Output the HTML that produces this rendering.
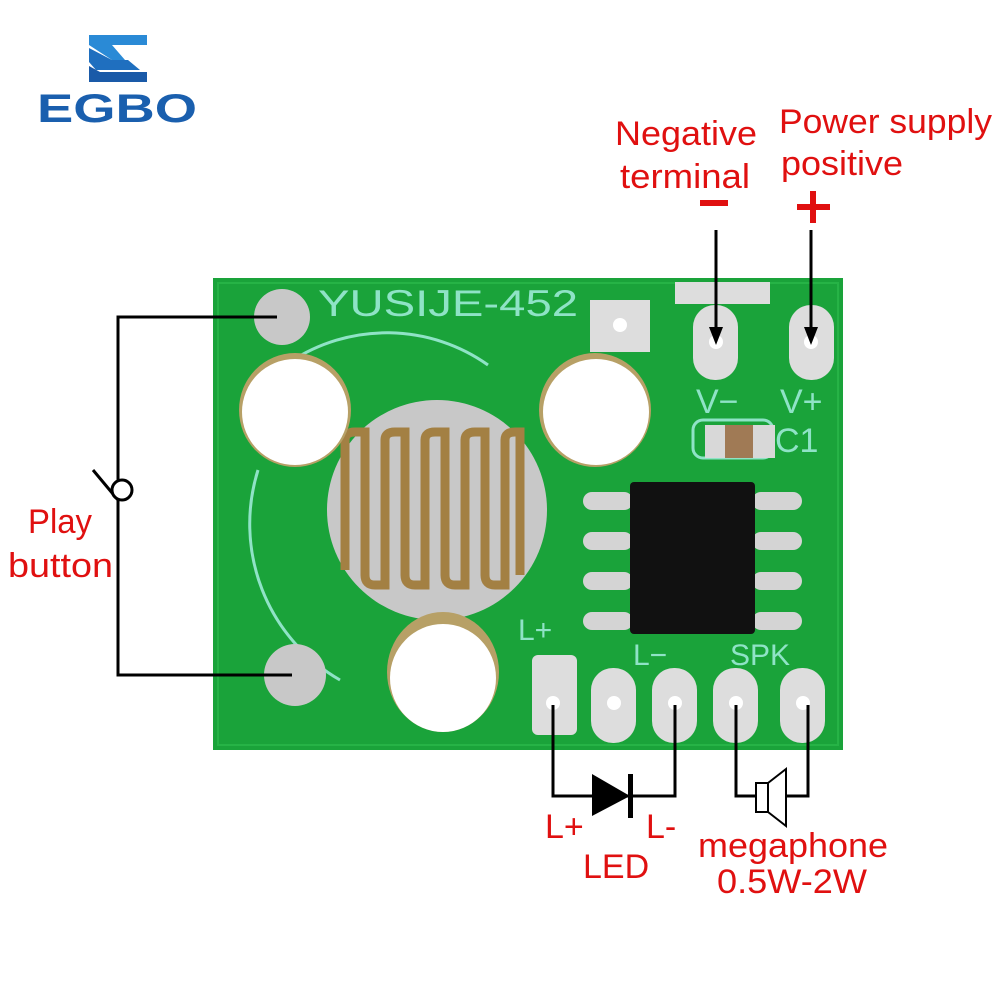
<!DOCTYPE html>
<html><head><meta charset="utf-8"><style>
html,body{margin:0;padding:0;background:#fff;}
svg{display:block}
text{font-family:"Liberation Sans",sans-serif;}
</style></head><body>
<svg width="1000" height="1000" viewBox="0 0 1000 1000" xmlns="http://www.w3.org/2000/svg">
<!-- logo -->
<polygon points="89,35 147,35 147,45 112,45 125,60 112,60 89,45" fill="#2a8ad6"/>
<polygon points="89,48 112,60 128,60 140,70 96,70 89,62" fill="#1f6fbf"/>
<polygon points="89,66 100,72 147,72 147,82 89,82" fill="#1a5aa8"/>
<text x="37" y="122" font-size="40" font-weight="bold" fill="#1a5fae" textLength="160" lengthAdjust="spacingAndGlyphs">EGBO</text>
<!-- board -->
<rect x="213" y="278" width="630" height="472" fill="#1aa33a"/>
<rect x="218" y="283" width="620" height="462" fill="none" stroke="#26b346" stroke-width="2"/>
<path d="M290,362 A175,175 0 0 1 488,365" fill="none" stroke="#8fe3c6" stroke-width="3"/>
<path d="M258,470 A180,180 0 0 0 340,680" fill="none" stroke="#8fe3c6" stroke-width="3"/>
<text x="318" y="316" font-size="37" fill="#8fe3c6" textLength="260" lengthAdjust="spacingAndGlyphs">YUSIJE-452</text>
<circle cx="437" cy="510" r="110" fill="#c8c8c8"/>
<g fill="none" stroke="#a38043" stroke-width="9">
<path d="M345,570 V440 Q345,432 355,432 H365 V575 Q365,585 375,585 H385 V440"/>
<path d="M385,440 Q385,432 395,432 H405 V575 Q405,585 415,585 H425 V440 Q425,432 435,432 H445 V575 Q445,585 455,585 H465 V440 Q465,432 475,432 H485 V575 Q485,585 495,585 H505 V440 Q505,432 515,432 H520 V575"/>
</g>
<ellipse cx="295" cy="410" rx="56" ry="57" fill="#b7a066"/>
<ellipse cx="295" cy="412" rx="53" ry="53" fill="#fff"/>
<ellipse cx="595" cy="410" rx="56" ry="57" fill="#b7a066"/>
<ellipse cx="596" cy="412" rx="53" ry="53" fill="#fff"/>
<ellipse cx="443" cy="672" rx="56" ry="60" fill="#b7a066"/>
<ellipse cx="443" cy="678" rx="53" ry="54" fill="#fff"/>
<circle cx="282" cy="317" r="28" fill="#c8c8c8"/>
<circle cx="295" cy="675" r="31" fill="#c8c8c8"/>
<rect x="590" y="300" width="60" height="52" fill="#ddd"/><circle cx="620" cy="325" r="7" fill="#fff"/>
<rect x="675" y="282" width="95" height="22" fill="#ddd"/>
<rect x="693" y="305" width="45" height="75" rx="22" fill="#ddd"/><circle cx="716" cy="342" r="7" fill="#fff"/>
<rect x="789" y="305" width="45" height="75" rx="22" fill="#ddd"/><circle cx="811" cy="342" r="7" fill="#fff"/>
<text x="696" y="413" font-size="34" fill="#8fe3c6">V−</text>
<text x="780" y="413" font-size="34" fill="#8fe3c6">V+</text>
<text x="775" y="452" font-size="34" fill="#8fe3c6">C1</text>
<rect x="693" y="420" width="80" height="38" rx="10" fill="none" stroke="#8fe3c6" stroke-width="3"/>
<rect x="705" y="425" width="70" height="33" fill="#d8d8d8"/><rect x="725" y="425" width="28" height="33" fill="#a07a55"/>
<!-- IC -->
<g fill="#d4d4d4">
<rect x="583" y="492" width="50" height="18" rx="9"/><rect x="583" y="532" width="50" height="18" rx="9"/>
<rect x="583" y="572" width="50" height="18" rx="9"/><rect x="583" y="612" width="50" height="18" rx="9"/>
<rect x="752" y="492" width="50" height="18" rx="9"/><rect x="752" y="532" width="50" height="18" rx="9"/>
<rect x="752" y="572" width="50" height="18" rx="9"/><rect x="752" y="612" width="50" height="18" rx="9"/>
</g>
<rect x="630" y="482" width="125" height="152" rx="4" fill="#111"/>
<text x="518" y="640" font-size="30" fill="#8fe3c6">L+</text>
<text x="633" y="665" font-size="30" fill="#8fe3c6">L−</text>
<text x="730" y="665" font-size="30" fill="#8fe3c6">SPK</text>
<rect x="532" y="655" width="45" height="80" rx="6" fill="#ddd"/><circle cx="553" cy="703" r="7" fill="#fff"/>
<rect x="591" y="668" width="45" height="75" rx="22" fill="#ddd"/><circle cx="614" cy="703" r="7" fill="#fff"/>
<rect x="652" y="668" width="45" height="75" rx="22" fill="#ddd"/><circle cx="675" cy="703" r="7" fill="#fff"/>
<rect x="713" y="668" width="45" height="75" rx="22" fill="#ddd"/><circle cx="736" cy="703" r="7" fill="#fff"/>
<rect x="780" y="668" width="45" height="75" rx="22" fill="#ddd"/><circle cx="803" cy="703" r="7" fill="#fff"/>
<!-- wires -->
<g fill="none" stroke="#000" stroke-width="3">
<path d="M277,317 H118 V480"/><path d="M118,500 V675 H292"/>
<path d="M93,470 L118,500"/><circle cx="122" cy="490" r="10" fill="#fff"/>
<path d="M716,230 V330"/><path d="M811,230 V330"/>
<path d="M553,705 V796 H675 V705"/>
<path d="M736,705 V796 H756"/><path d="M786,796 H808 V705"/>
<rect x="756" y="783" width="12" height="29" fill="#fff" stroke-width="2"/>
<path d="M768,783 L786,769 V826 L768,812" stroke-width="2"/>
</g>
<polygon points="716,345 709,327 723,327" fill="#000"/>
<polygon points="811,345 804,327 818,327" fill="#000"/>
<polygon points="592,774 592,816 630,796" fill="#000"/>
<rect x="628" y="774" width="5" height="44" fill="#000"/>
<!-- labels -->
<g fill="#e01010" font-size="34">
<text x="615" y="145" textLength="142" lengthAdjust="spacingAndGlyphs">Negative</text>
<text x="620" y="188" textLength="130" lengthAdjust="spacingAndGlyphs">terminal</text>
<text x="779" y="133" textLength="213" lengthAdjust="spacingAndGlyphs">Power supply</text>
<text x="781" y="175" textLength="122" lengthAdjust="spacingAndGlyphs">positive</text>
<text x="28" y="533" textLength="64" lengthAdjust="spacingAndGlyphs">Play</text>
<text x="8" y="577" textLength="105" lengthAdjust="spacingAndGlyphs">button</text>
<text x="545" y="838">L+</text>
<text x="646" y="838">L-</text>
<text x="583" y="878">LED</text>
<text x="698" y="857" textLength="190" lengthAdjust="spacingAndGlyphs">megaphone</text>
<text x="717" y="893" textLength="150" lengthAdjust="spacingAndGlyphs">0.5W-2W</text>
</g>
<rect x="700" y="200" width="28" height="6" fill="#e01010"/>
<rect x="797" y="204" width="33" height="6" fill="#e01010"/><rect x="810" y="191" width="6" height="32" fill="#e01010"/>
</svg>
</body></html>
